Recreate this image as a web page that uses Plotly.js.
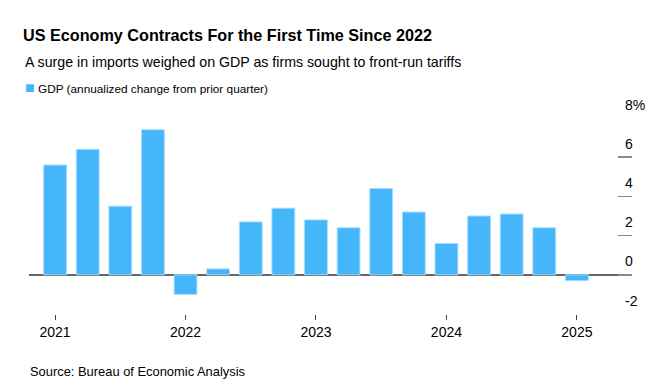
<!DOCTYPE html>
<html>
<head>
<meta charset="utf-8">
<script src="https://cdn.plot.ly/plotly-3.0.1.min.js"></script>
<style>
html,body{margin:0;padding:0;background:#fff;}
#chart{width:657px;height:389px;}
</style>
</head>
<body>
<div id="chart"></div>
<script>
// Data
const quarters = ["2021 Q1","2021 Q2","2021 Q3","2021 Q4","2022 Q1","2022 Q2","2022 Q3","2022 Q4","2023 Q1","2023 Q2","2023 Q3","2023 Q4","2024 Q1","2024 Q2","2024 Q3","2024 Q4","2025 Q1"];
const gdp = [5.6, 6.4, 3.5, 7.4, -1.0, 0.3, 2.7, 3.4, 2.8, 2.4, 4.4, 3.2, 1.6, 3.0, 3.1, 2.4, -0.3];
const xTickVals = ["2021 Q1","2022 Q1","2023 Q1","2024 Q1","2025 Q1"];
const xTickText = ["2021","2022","2023","2024","2025"];
const yTickVals = [-2, 0, 2, 4, 6, 8];
const yTickText = ["-2", "0", "2", "4", "6", "8%"];
const seriesName = "GDP (annualized change from prior quarter)";
const titleText = "US Economy Contracts For the First Time Since 2022";
const subtitleText = "A surge in imports weighed on GDP as firms sought to front-run tariffs";
const sourceText = "Source: Bureau of Economic Analysis";

const barColor = "#45b6fa";
const font = "Liberation Sans, Arial, Helvetica, sans-serif";

const trace = {
  type: "bar",
  x: quarters,
  y: gdp,
  name: seriesName,
  marker: {color: barColor, line: {color: "#a9dcfb", width: 1}},
  hoverinfo: "x+y"
};

const annotations = yTickVals.map((v, i) => ({
  xref: "paper", yref: "y", x: 1, y: v,
  xanchor: "left", yanchor: "middle",
  xshift: -9, yshift: 13.5,
  text: yTickText[i], showarrow: false,
  font: {family: font, size: 14, color: "#000"}
}));

annotations.push({
  xref: "paper", yref: "paper", x: -0.0100, y: 1.2837,
  xanchor: "left", yanchor: "middle",
  text: subtitleText, showarrow: false,
  font: {family: font, size: 14.2, color: "#000"}
});
annotations.push({
  xref: "paper", yref: "paper", x: -0.0105, y: 1.1564,
  xanchor: "left", yanchor: "middle",
  text: '<span style="color:' + barColor + ';font-size:16px">■</span> ' + seriesName, showarrow: false,
  font: {family: font, size: 11.8, color: "#000"}
});
annotations.push({
  xref: "paper", yref: "paper", x: -0.002, y: -0.2939,
  xanchor: "left", yanchor: "middle",
  text: sourceText, showarrow: false,
  font: {family: font, size: 12.9, color: "#000"}
});

const layout = {
  width: 657, height: 389,
  margin: {l: 29, r: 25, t: 117.7, b: 75, pad: 0},
  paper_bgcolor: "#fff", plot_bgcolor: "#fff",
  showlegend: false,
  bargap: 0.3,
  title: {
    text: "<b>" + titleText + "</b>",
    x: 23/657, xref: "container", xanchor: "left",
    y: 1 - 35/389, yref: "container", yanchor: "middle",
    font: {family: font, size: 16.2, color: "#000"}
  },
  xaxis: {
    type: "category",
    range: [-0.8, 17.69],
    tickmode: "array", tickvals: xTickVals, ticktext: xTickText,
    ticks: "outside", ticklen: 5, tickwidth: 1, tickcolor: "#444",
    showgrid: false, showline: false, zeroline: false,
    tickfont: {family: font, size: 14, color: "#000"},
    fixedrange: true
  },
  yaxis: {
    side: "right",
    range: [-2, 8],
    tickmode: "array", tickvals: yTickVals,
    showticklabels: false,
    ticks: "inside", ticklen: 14, tickwidth: 1.5, tickcolor: "#888",
    showgrid: false, showline: false,
    zeroline: true, zerolinecolor: "#666", zerolinewidth: 1.5,
    fixedrange: true
  },
  annotations: annotations
};

Plotly.newPlot("chart", [trace], layout, {displayModeBar: false, staticPlot: true});
</script>
</body>
</html>
